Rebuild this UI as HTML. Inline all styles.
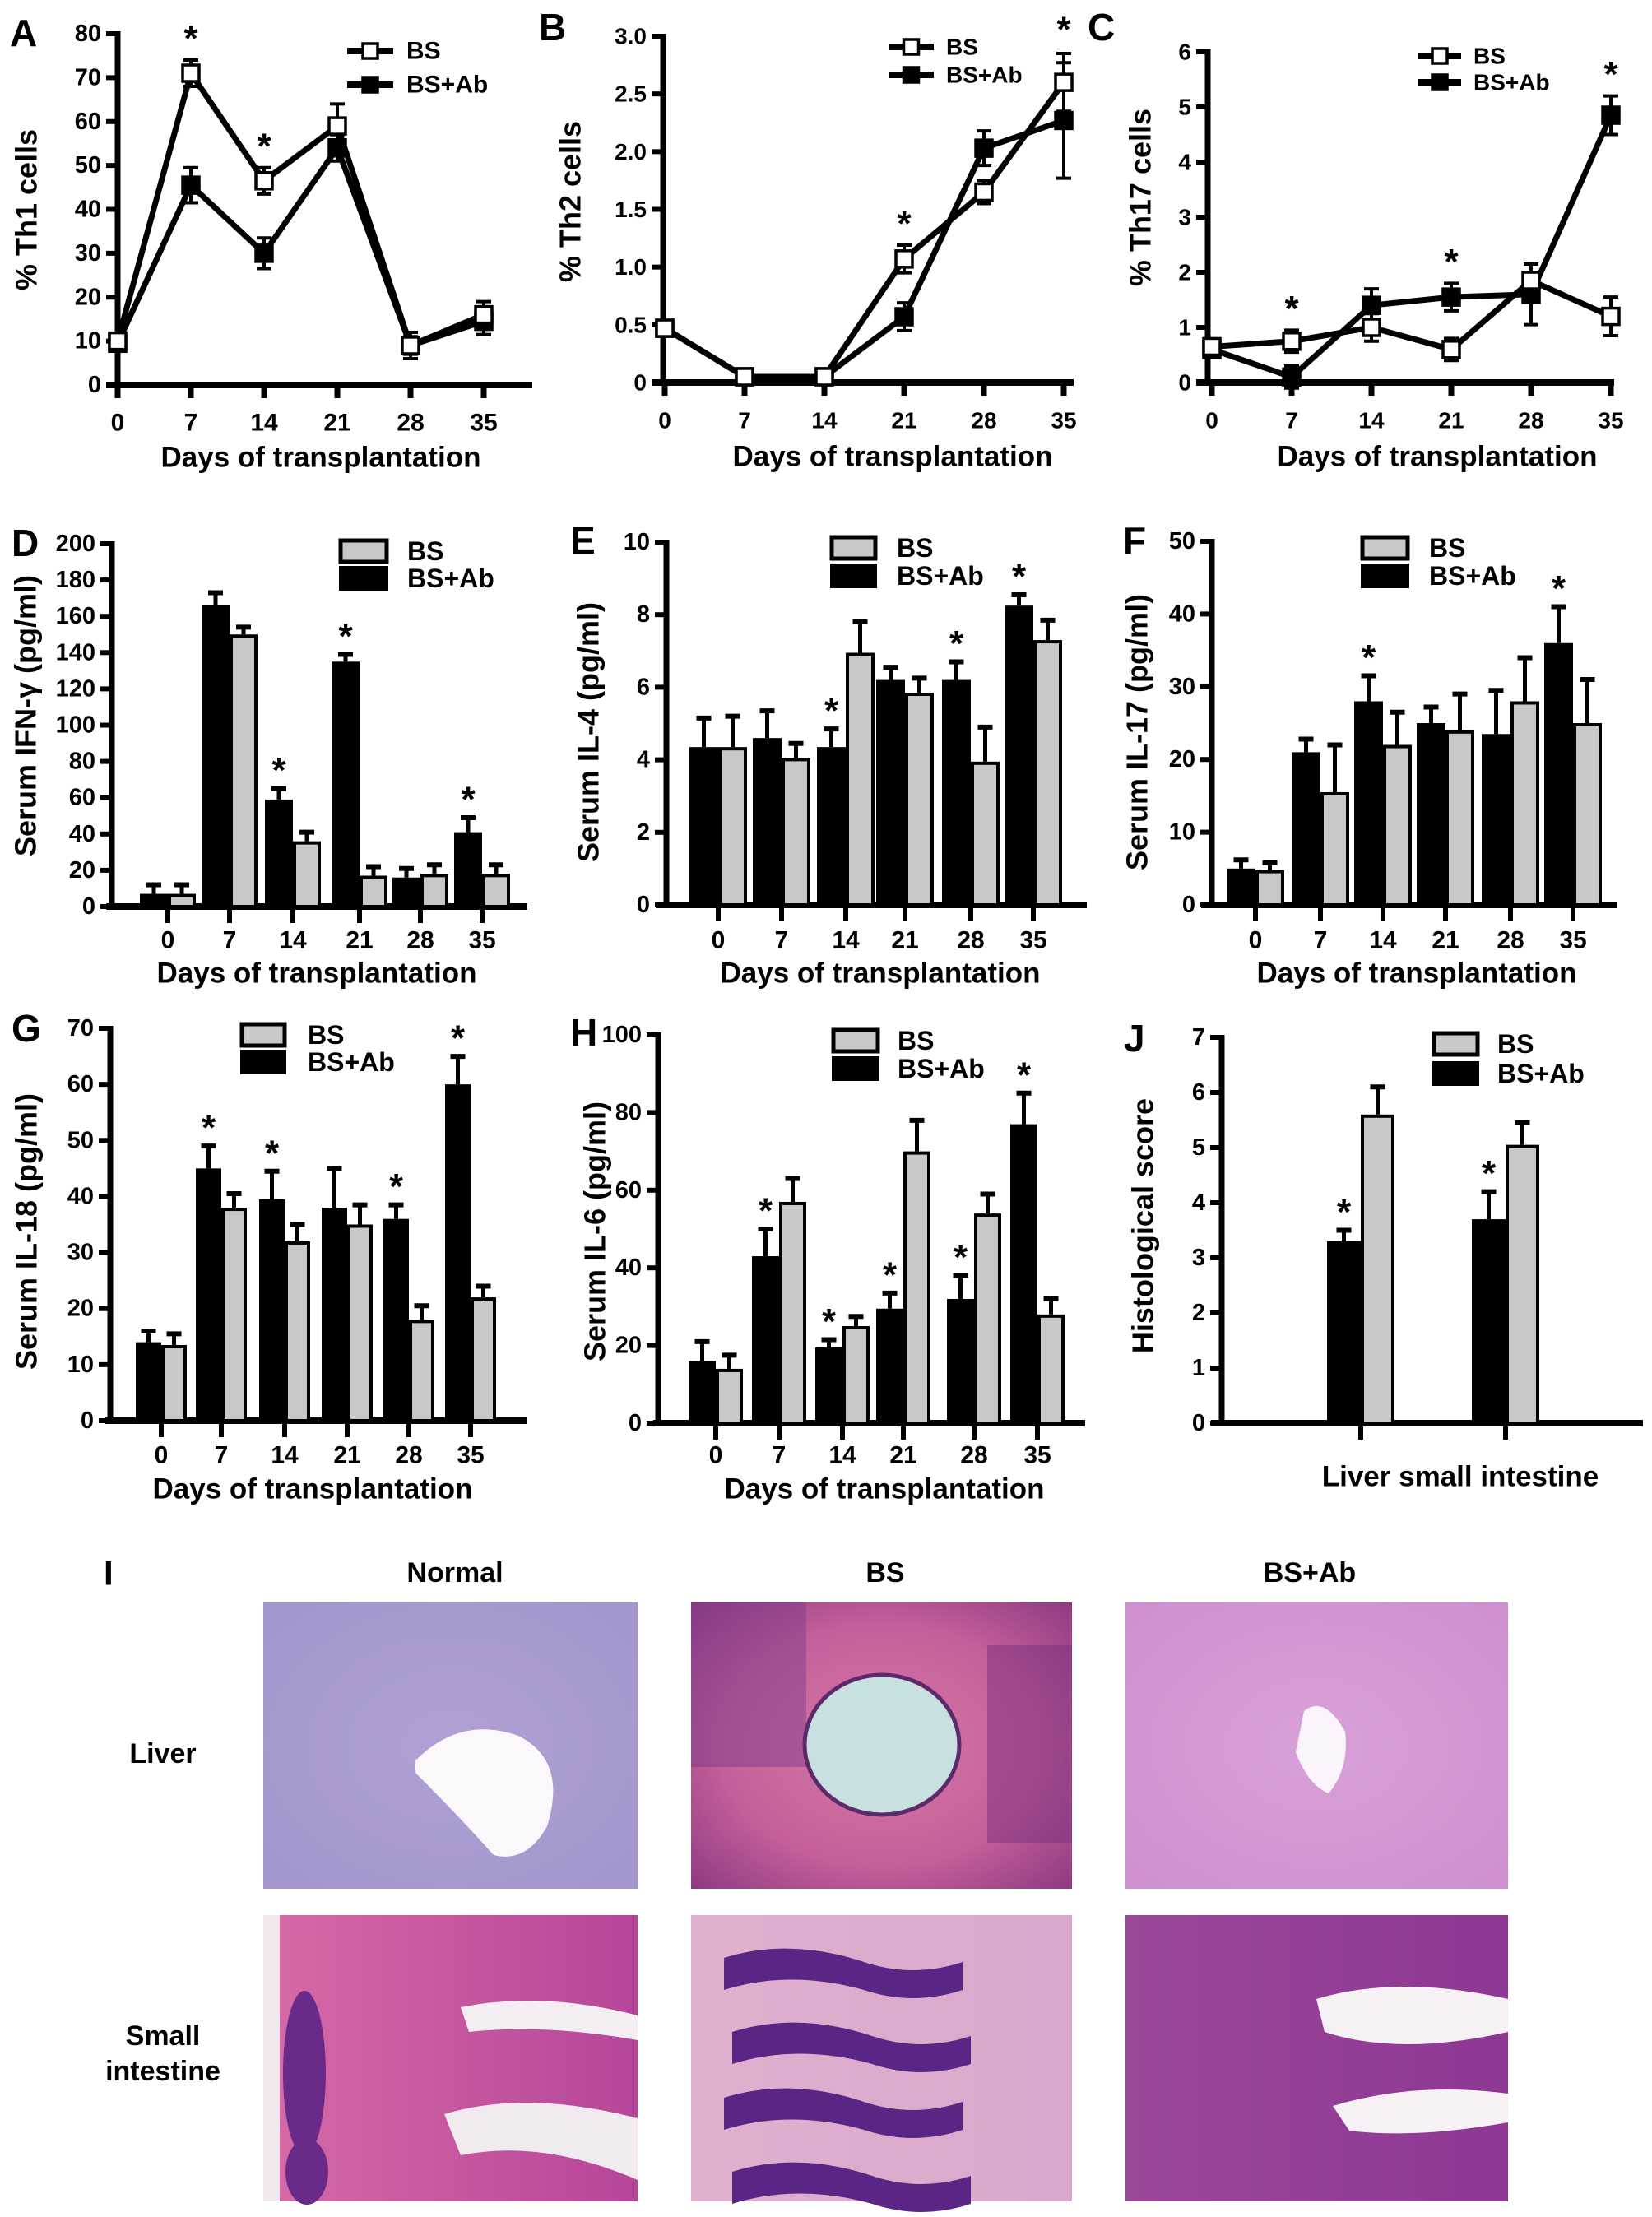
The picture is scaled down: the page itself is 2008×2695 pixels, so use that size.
<!DOCTYPE html>
<html><head><meta charset="utf-8">
<style>
html,body{margin:0;padding:0;background:#fff;}
svg{display:block;font-family:"Liberation Sans",Arial,sans-serif;font-weight:bold;}
</style></head>
<body>
<svg id="fig" xmlns="http://www.w3.org/2000/svg" width="2008" height="2695" viewBox="0 0 2008 2695">
<defs>
<radialGradient id="gLiverN" cx="50%" cy="50%" r="70%"><stop offset="0" stop-color="#b0a0d4"/><stop offset="1" stop-color="#a395cc"/></radialGradient>
<radialGradient id="gLiverB" cx="50%" cy="50%" r="70%"><stop offset="0" stop-color="#d77aa8"/><stop offset="0.6" stop-color="#c45f9a"/><stop offset="1" stop-color="#8e3a82"/></radialGradient>
<radialGradient id="gLiverA" cx="50%" cy="50%" r="70%"><stop offset="0" stop-color="#d9a0d8"/><stop offset="1" stop-color="#cf8fd0"/></radialGradient>
<linearGradient id="gInt" x1="0" y1="0" x2="1" y2="0"><stop offset="0" stop-color="#d66aa6"/><stop offset="1" stop-color="#b6469a"/></linearGradient>
</defs>
</svg>
<script>
// ---------- Panel A data (Th1 %) ----------
const daysA = [0, 7, 14, 21, 28, 35];
const th1BS = [10, 71, 46.5, 59, 9, 16];
const th1BSerr = [1, 3, 3, 5, 2, 3];
const th1Ab = [9.5, 45.5, 30, 54, 9, 14.5];
const th1Aberr = [1, 4, 3.5, 3, 3, 3];
const th1Ticks = [0, 10, 20, 30, 40, 50, 60, 70, 80];
// ---------- Panel B data (Th2 %) ----------
const th2BS = [0.47, 0.05, 0.05, 1.07, 1.65, 2.6];
const th2BSerr = [0.03, 0.03, 0.03, 0.12, 0.1, 0.25];
const th2Ab = [0.47, 0.05, 0.05, 0.57, 2.03, 2.27];
const th2Aberr = [0.03, 0.03, 0.03, 0.12, 0.15, 0.5];
const th2Ticks = [0, 0.5, 1.0, 1.5, 2.0, 2.5, 3.0];
const th2TickLabels = ["0", "0.5", "1.0", "1.5", "2.0", "2.5", "3.0"];
// ---------- Panel C data (Th17 %) ----------
const th17BS = [0.65, 0.75, 1.0, 0.6, 1.85, 1.2];
const th17BSerr = [0.05, 0.2, 0.25, 0.2, 0.3, 0.35];
const th17Ab = [0.6, 0.1, 1.4, 1.55, 1.6, 4.85];
const th17Aberr = [0.05, 0.2, 0.3, 0.25, 0.55, 0.35];
const th17Ticks = [0, 1, 2, 3, 4, 5, 6];
// ---------- Bar panels ----------
const dayLabels = ["0", "7", "14", "21", "28", "35"];
const ifnAb = [7, 166, 59, 135, 16, 41];
const ifnAberr = [5, 7, 6, 4, 5, 8];
const ifnBS = [7, 150, 36, 17, 18, 18];
const ifnBSerr = [5, 4, 5, 5, 5, 5];
const ifnTicks = [0, 20, 40, 60, 80, 100, 120, 140, 160, 180, 200];
const il4Ab = [4.35, 4.6, 4.35, 6.2, 6.2, 8.25];
const il4Aberr = [0.8, 0.75, 0.5, 0.35, 0.5, 0.3];
const il4BS = [4.35, 4.05, 6.95, 5.85, 3.95, 7.3];
const il4BSerr = [0.85, 0.4, 0.85, 0.4, 0.95, 0.55];
const il4Ticks = [0, 2, 4, 6, 8, 10];
const il17Ab = [5, 21, 28, 25, 23.5, 36];
const il17Aberr = [1.2, 1.8, 3.5, 2.2, 6, 5];
const il17BS = [4.8, 15.5, 22, 24, 28, 25];
const il17BSerr = [1, 6.5, 4.5, 5, 6, 6];
const il17Ticks = [0, 10, 20, 30, 40, 50];
const il18Ab = [14, 45, 39.5, 38, 36, 60];
const il18Aberr = [2, 4, 5, 7, 2.5, 5];
const il18BS = [13.5, 38, 32, 35, 18, 22];
const il18BSerr = [2, 2.5, 3, 3.5, 2.5, 2];
const il18Ticks = [0, 10, 20, 30, 40, 50, 60, 70];
const il6Ab = [16, 43, 19.5, 29.5, 32, 77];
const il6Aberr = [5, 7, 2, 4, 6, 8];
const il6BS = [14, 57, 25, 70, 54, 28];
const il6BSerr = [3.5, 6, 2.5, 8, 5, 4];
const il6Ticks = [0, 20, 40, 60, 80, 100];
const histoAb = [3.3, 3.7];
const histoAberr = [0.2, 0.5];
const histoBS = [5.6, 5.05];
const histoBSerr = [0.5, 0.4];
const histoTicks = [0, 1, 2, 3, 4, 5, 6, 7];

const NS = "http://www.w3.org/2000/svg";
const svg = document.getElementById("fig");
function el(tag, attrs, parent, name) {
  const e = document.createElementNS(NS, tag);
  for (const k in attrs) e.setAttribute(k, attrs[k]);
  
  
  (parent || svg).appendChild(e);
  return e;
}
function txt(x, y, s, size, parent, name, anchor, extra) {
  const t = el("text", Object.assign({x: x, y: y, "font-size": size, "text-anchor": anchor || "middle", "dominant-baseline": "central", fill: "#000"}, extra || {}), parent, name);
  t.textContent = s;
  return t;
}
function group(name) { return el("g", {}, svg, name); }

function yAxis(g, ax, y0, yTop, vmax, ticks, labels, fs) {
  const ys = v => y0 - (v / vmax) * (y0 - yTop);
  el("line", {x1: ax, y1: y0 + 4, x2: ax, y2: yTop - 3, stroke: "#000", "stroke-width": 7}, g, "y-axis-line");
  ticks.forEach((t, i) => {
    el("line", {x1: ax - 14, y1: ys(t), x2: ax, y2: ys(t), stroke: "#000", "stroke-width": 6}, g, "y-tick");
    txt(ax - 20, ys(t), labels ? labels[i] : String(t), fs || 29, g, "y-tick-label", "end");
  });
  return ys;
}

function lineChart(o) {
  const g = group(o.name);
  const ys = yAxis(g, o.ax, o.y0, o.yTop, o.vmax, o.ticks, o.labels, o.fs);
  const xs = d => o.x0 + (d / 35) * (o.x35 - o.x0);
  el("line", {x1: o.ax - 14, y1: o.y0, x2: o.xEnd, y2: o.y0, stroke: "#000", "stroke-width": 8}, g, "x-axis-line");
  daysA.forEach((d, i) => {
    el("line", {x1: xs(d), y1: o.y0, x2: xs(d), y2: o.y0 + 16, stroke: "#000", "stroke-width": 7}, g, "x-tick");
    txt(xs(d), o.y0 + 46, dayLabels[i], o.fs || 30, g, "x-tick-label");
  });
  const series = [[o.ab, o.aberr, "#000", "bs-ab-series"], [o.bs, o.bserr, "#fff", "bs-series"]];
  series.forEach(([vals, errs, fill, nm]) => {
    const pts = vals.map((v, i) => xs(daysA[i]) + "," + ys(v)).join(" ");
    el("polyline", {points: pts, fill: "none", stroke: "#000", "stroke-width": 7, "stroke-linejoin": "round"}, g, nm + "-line");
    vals.forEach((v, i) => {
      const x = xs(daysA[i]);
      el("line", {x1: x, y1: ys(v - errs[i]), x2: x, y2: ys(v + errs[i]), stroke: "#000", "stroke-width": 4}, g, nm + "-error-bar");
      el("line", {x1: x - 9, y1: ys(v + errs[i]), x2: x + 9, y2: ys(v + errs[i]), stroke: "#000", "stroke-width": 4}, g, nm + "-error-cap");
      el("line", {x1: x - 9, y1: ys(v - errs[i]), x2: x + 9, y2: ys(v - errs[i]), stroke: "#000", "stroke-width": 4}, g, nm + "-error-cap");
      el("rect", {x: x - 10, y: ys(v) - 10, width: 20, height: 20, fill: fill, stroke: "#000", "stroke-width": 3.5}, g, nm + "-marker");
    });
  });
  o.stars.forEach(([i, v]) => txt(xs(daysA[i]), ys(v) - 26, "*", 44, g, "significance-star"));
  const L = o.leg;
  [["BS", "#fff", L.y1], ["BS+Ab", "#000", L.y2]].forEach(([s, f, y]) => {
    el("line", {x1: L.x1, y1: y, x2: L.x2, y2: y, stroke: "#000", "stroke-width": 8}, g, "legend-line");
    el("rect", {x: (L.x1 + L.x2) / 2 - 9, y: y - 9, width: 18, height: 18, fill: f, stroke: "#000", "stroke-width": 3.5}, g, "legend-marker");
    txt(L.tx, y, s, L.fs || 30, g, "legend-label", "start");
  });
  txt(o.titleX, o.titleY, "Days of  transplantation", 35, g, "x-axis-title");
  txt(o.yTitleX, o.yTitleY, o.yTitle, 36, g, "y-axis-title", "middle", {transform: "rotate(-90 " + o.yTitleX + " " + o.yTitleY + ")"});
  txt(o.letterX, o.letterY, o.letter, 46, g, "panel-label", "start");
}

function barChart(o) {
  const g = group(o.name);
  const ys = yAxis(g, o.ax, o.y0, o.yTop, o.vmax, o.ticks, null, o.fs);
  el("line", {x1: o.xStart, y1: o.y0, x2: o.xEnd, y2: o.y0, stroke: "#000", "stroke-width": 8}, g, "x-axis-line");
  const w = o.bw;
  o.centers.forEach((cx, i) => {
    el("line", {x1: cx, y1: o.y0, x2: cx, y2: o.y0 + 20, stroke: "#000", "stroke-width": 6}, g, "x-tick");
    if (o.catLabels) txt(cx, o.labY, o.catLabels[i], 30, g, "x-tick-label");
    const va = o.ab[i], ea = o.aberr[i];
    el("line", {x1: cx - w / 2, y1: ys(va), x2: cx - w / 2, y2: ys(va + ea), stroke: "#000", "stroke-width": 5}, g, "bs-ab-error-bar");
    el("line", {x1: cx - w / 2 - 9, y1: ys(va + ea), x2: cx - w / 2 + 9, y2: ys(va + ea), stroke: "#000", "stroke-width": 6}, g, "bs-ab-error-cap");
    el("rect", {x: cx - w, y: ys(va), width: w, height: o.y0 - ys(va), fill: "#000"}, g, "bs-ab-bar");
    const vb = o.bs[i], eb = o.bserr[i];
    el("line", {x1: cx + w / 2, y1: ys(vb), x2: cx + w / 2, y2: ys(vb + eb), stroke: "#000", "stroke-width": 5}, g, "bs-error-bar");
    el("line", {x1: cx + w / 2 - 9, y1: ys(vb + eb), x2: cx + w / 2 + 9, y2: ys(vb + eb), stroke: "#000", "stroke-width": 6}, g, "bs-error-cap");
    el("rect", {x: cx + 2, y: ys(vb) + 2, width: w - 4, height: o.y0 - ys(vb) - 2, fill: "#c8c8c8", stroke: "#000", "stroke-width": 4}, g, "bs-bar");
  });
  o.stars.forEach(i => txt(o.centers[i] - w / 2, ys(o.ab[i] + o.aberr[i]) - 22, "*", 44, g, "significance-star"));
  const L = o.leg;
  el("rect", {x: L.x + 2, y: L.y1 - 13, width: L.w - 4, height: 26, fill: "#c8c8c8", stroke: "#000", "stroke-width": 5}, g, "legend-swatch-bs");
  el("rect", {x: L.x, y: L.y2 - 15, width: L.w, height: 30, fill: "#000"}, g, "legend-swatch-bs-ab");
  txt(L.tx, L.y1, "BS", L.fs, g, "legend-label", "start");
  txt(L.tx, L.y2, "BS+Ab", L.fs, g, "legend-label", "start");
  txt(o.titleX, o.titleY, o.xTitle || "Days of  transplantation", 35, g, "x-axis-title");
  txt(o.yTitleX, o.yTitleY, o.yTitle, 36, g, "y-axis-title", "middle", {transform: "rotate(-90 " + o.yTitleX + " " + o.yTitleY + ")"});
  txt(o.letterX, o.letterY, o.letter, 46, g, "panel-label", "start");
}

lineChart({name: "panel-a-th1", ax: 143, y0: 468, yTop: 41, vmax: 80, ticks: th1Ticks, x0: 143, x35: 588, xEnd: 647,
  bs: th1BS, bserr: th1BSerr, ab: th1Ab, aberr: th1Aberr, stars: [[1, 74], [2, 49.5]],
  leg: {x1: 422, x2: 478, tx: 494, y1: 62, y2: 103}, titleX: 390, titleY: 556, yTitle: "% Th1 cells", yTitleX: 32, yTitleY: 255, letter: "A", letterX: 12, letterY: 40});
lineChart({name: "panel-b-th2", ax: 806, y0: 465, yTop: 44, vmax: 3, ticks: th2Ticks, labels: th2TickLabels, fs: 28, x0: 808, x35: 1293, xEnd: 1305,
  bs: th2BS, bserr: th2BSerr, ab: th2Ab, aberr: th2Aberr, stars: [[3, 1.19], [5, 2.87]],
  leg: {x1: 1080, x2: 1135, tx: 1150, y1: 57, y2: 91, fs: 28}, titleX: 1085, titleY: 555, yTitle: "% Th2 cells", yTitleX: 693, yTitleY: 245, letter: "B", letterX: 655, letterY: 33});
lineChart({name: "panel-c-th17", ax: 1468, y0: 465, yTop: 63, vmax: 6, ticks: th17Ticks, fs: 28, x0: 1473, x35: 1958, xEnd: 1962,
  bs: th17BS, bserr: th17BSerr, ab: th17Ab, aberr: th17Aberr, stars: [[1, 0.95], [3, 1.8], [5, 5.2]],
  leg: {x1: 1724, x2: 1776, tx: 1791, y1: 68, y2: 100, fs: 28}, titleX: 1747, titleY: 555, yTitle: "% Th17 cells", yTitleX: 1386, yTitleY: 240, letter: "C", letterX: 1322, letterY: 33});

barChart({name: "panel-d-ifn-gamma", ax: 136, y0: 1102, yTop: 661, vmax: 200, ticks: ifnTicks, xStart: 129, xEnd: 641, bw: 34,
  centers: [204, 279, 356, 437, 511, 586], catLabels: dayLabels, labY: 1143, ab: ifnAb, aberr: ifnAberr, bs: ifnBS, bserr: ifnBSerr, stars: [2, 3, 5],
  leg: {x: 412, w: 60, y1: 670, y2: 703, tx: 495, fs: 32}, titleX: 385, titleY: 1183, yTitle: "Serum IFN-γ  (pg/ml)", yTitleX: 31, yTitleY: 870, letter: "D", letterX: 14, letterY: 660});
barChart({name: "panel-e-il4", ax: 810, y0: 1100, yTop: 659, vmax: 10, ticks: il4Ticks, xStart: 797, xEnd: 1321, bw: 35,
  centers: [873, 950, 1028, 1100, 1180, 1256], catLabels: dayLabels, labY: 1143, ab: il4Ab, aberr: il4Aberr, bs: il4BS, bserr: il4BSerr, stars: [2, 4, 5],
  leg: {x: 1009, w: 57, y1: 666, y2: 700, tx: 1090, fs: 32}, titleX: 1070, titleY: 1183, yTitle: "Serum IL-4  (pg/ml)", yTitleX: 715, yTitleY: 890, letter: "E", letterX: 693, letterY: 657});
barChart({name: "panel-f-il17", ax: 1473, y0: 1100, yTop: 658, vmax: 50, ticks: il17Ticks, xStart: 1460, xEnd: 1966, bw: 35,
  centers: [1526, 1605, 1681, 1757, 1836, 1912], catLabels: dayLabels, labY: 1143, ab: il17Ab, aberr: il17Aberr, bs: il17BS, bserr: il17BSerr, stars: [2, 5],
  leg: {x: 1654, w: 59, y1: 666, y2: 700, tx: 1737, fs: 32}, titleX: 1722, titleY: 1183, yTitle: "Serum IL-17  (pg/ml)", yTitleX: 1382, yTitleY: 890, letter: "F", letterX: 1365, letterY: 657});
barChart({name: "panel-g-il18", ax: 134, y0: 1727, yTop: 1250, vmax: 70, ticks: il18Ticks, xStart: 128, xEnd: 640, bw: 31,
  centers: [196, 269, 346, 422, 497, 572], catLabels: dayLabels, labY: 1769, ab: il18Ab, aberr: il18Aberr, bs: il18BS, bserr: il18BSerr, stars: [1, 2, 4, 5],
  leg: {x: 292, w: 56, y1: 1258, y2: 1291, tx: 374, fs: 32}, titleX: 380, titleY: 1810, yTitle: "Serum IL-18  (pg/ml)", yTitleX: 32, yTitleY: 1497, letter: "G", letterX: 14, letterY: 1250});
barChart({name: "panel-h-il6", ax: 800, y0: 1730, yTop: 1258, vmax: 100, ticks: il6Ticks, xStart: 794, xEnd: 1319, bw: 33,
  centers: [870, 947, 1024, 1098, 1184, 1261], catLabels: dayLabels, labY: 1769, ab: il6Ab, aberr: il6Aberr, bs: il6BS, bserr: il6BSerr, stars: [1, 2, 3, 4, 5],
  leg: {x: 1011, w: 58, y1: 1265, y2: 1299, tx: 1091, fs: 32}, titleX: 1075, titleY: 1810, yTitle: "Serum IL-6  (pg/ml)", yTitleX: 723, yTitleY: 1497, letter: "H", letterX: 693, letterY: 1255});
barChart({name: "panel-j-histology", ax: 1485, y0: 1730, yTop: 1261, vmax: 7, ticks: histoTicks, xStart: 1472, xEnd: 1997, bw: 41,
  centers: [1654, 1830], catLabels: null, labY: 0, ab: histoAb, aberr: histoAberr, bs: histoBS, bserr: histoBSerr, stars: [0, 1],
  leg: {x: 1741, w: 57, y1: 1269, y2: 1305, tx: 1820, fs: 32}, titleX: 1775, titleY: 1795, xTitle: "Liver small intestine", yTitle: "Histological score", yTitleX: 1389, yTitleY: 1490, letter: "J", letterX: 1366, letterY: 1262});

// ---------- Panel I histology photos ----------
const gI = group("panel-i-histology");
txt(126, 1912, "I", 42, gI, "panel-label", "start");
txt(553, 1912, "Normal", 34, gI, "column-title-normal");
txt(1076, 1912, "BS", 34, gI, "column-title-bs");
txt(1592, 1912, "BS+Ab", 34, gI, "column-title-bs-ab");
txt(198, 2132, "Liver", 34, gI, "row-label-liver");
txt(198, 2475, "Small", 34, gI, "row-label-small-intestine");
txt(198, 2518, "intestine", 34, gI, "row-label-small-intestine");
const cols = [[320, 455], [840, 463], [1368, 465]];
const liverFills = ["url(#gLiverN)", "url(#gLiverB)", "url(#gLiverA)"];
cols.forEach(([x, w], c) => {
  el("rect", {x: x, y: 1948, width: w, height: 348, fill: liverFills[c]}, gI, "liver-photo");
  el("rect", {x: x, y: 2328, width: w, height: 348, fill: "url(#gInt)"}, gI, "intestine-photo");
});
el("path", {d: "M 505 2140 Q 560 2085 630 2110 Q 690 2140 665 2220 Q 640 2265 600 2255 Q 560 2210 505 2155 Z", fill: "#fbf8fb"}, gI, "liver-normal-vein");
el("rect", {x: 840, y: 1948, width: 140, height: 200, fill: "#7d3a8a", opacity: 0.45}, gI, "liver-bs-infiltrate");
el("rect", {x: 1200, y: 2000, width: 103, height: 240, fill: "#7a2f7e", opacity: 0.5}, gI, "liver-bs-infiltrate");
el("ellipse", {cx: 1072, cy: 2121, rx: 94, ry: 85, fill: "#c9e0e0", stroke: "#5c2a6a", "stroke-width": 5}, gI, "liver-bs-vein");
el("path", {d: "M 1585 2080 Q 1610 2060 1635 2105 Q 1640 2150 1615 2180 Q 1590 2170 1575 2130 Z", fill: "#fbf4fb"}, gI, "liver-bs-ab-vein");
el("path", {d: "M 560 2440 Q 660 2420 775 2450 L 775 2480 Q 660 2460 570 2470 Z", fill: "#f4eef2"}, gI, "intestine-lumen");
el("path", {d: "M 540 2570 Q 640 2540 775 2575 L 775 2650 Q 660 2600 560 2620 Z", fill: "#f1eaee"}, gI, "intestine-lumen");
el("rect", {x: 320, y: 2328, width: 20, height: 348, fill: "#f0e8ec"}, gI, "intestine-edge");
el("ellipse", {cx: 370, cy: 2520, rx: 26, ry: 100, fill: "#6a2a8a"}, gI, "intestine-crypt");
el("ellipse", {cx: 373, cy: 2640, rx: 26, ry: 40, fill: "#6a2a8a"}, gI, "intestine-crypt");
el("rect", {x: 840, y: 2328, width: 463, height: 348, fill: "#e4c8dc", opacity: 0.75}, gI, "intestine-bs-pale");
[2380, 2470, 2550, 2640].forEach((y, k) => {
  el("path", {d: "M " + (880 + (k % 2) * 10) + " " + y + " q 80 -25 170 5 q 60 20 120 0 l 0 34 q -60 20 -120 0 q -90 -25 -170 0 z", fill: "#5a2585"}, gI, "intestine-bs-villus");
});
el("rect", {x: 1368, y: 2328, width: 465, height: 348, fill: "#6b2c8e", opacity: 0.55}, gI, "intestine-bs-ab-dark");
el("path", {d: "M 1600 2430 Q 1700 2400 1833 2430 L 1833 2470 Q 1700 2500 1610 2470 Z", fill: "#f6f1f5"}, gI, "intestine-lumen");
el("path", {d: "M 1620 2560 Q 1720 2530 1833 2545 L 1833 2580 Q 1720 2600 1640 2590 Z", fill: "#f6f1f5"}, gI, "intestine-lumen");
</script>
</body></html>
